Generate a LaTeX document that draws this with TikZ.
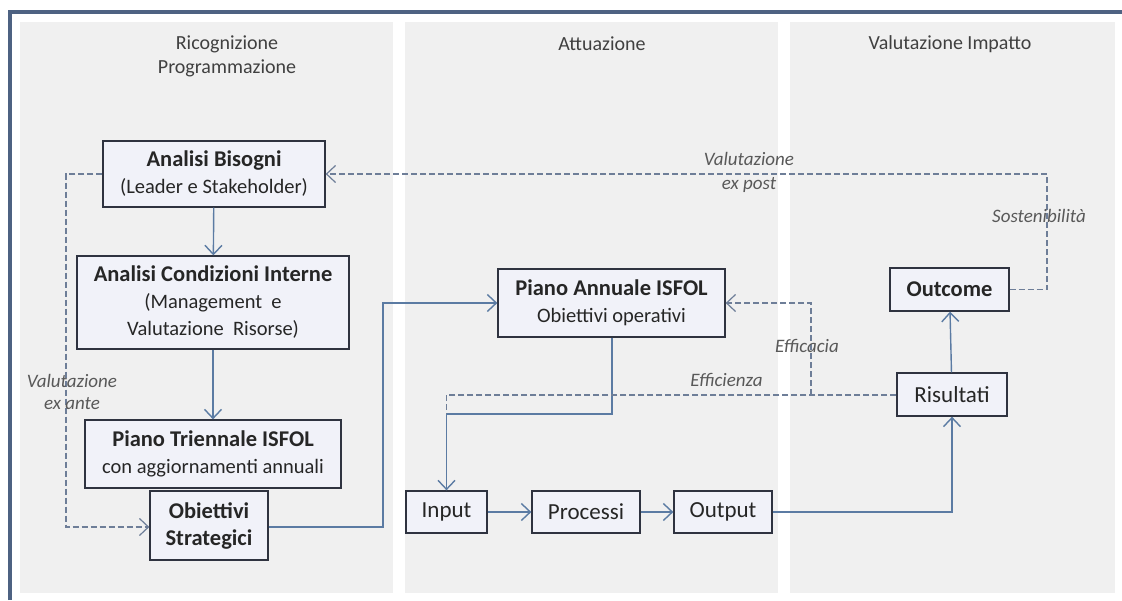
\documentclass[tikz,border=0pt]{standalone}
\usepackage{fontspec}
\setmainfont{Carlito}
\usetikzlibrary{arrows.meta}
\definecolor{frame}{HTML}{4E6282}
\definecolor{panel}{HTML}{F0F0F0}
\definecolor{boxfill}{HTML}{F1F2F9}
\definecolor{boxline}{HTML}{2F3340}
\definecolor{conn}{HTML}{5B7BA3}
\definecolor{dashc}{HTML}{6E7E98}
\newcommand\bt[1]{{\fontsize{22.5}{27}\selectfont\bfseries #1}}
\begin{document}
\begin{tikzpicture}[x=1pt,y=-1pt,
  box/.style={draw=boxline,line width=1.3pt,fill=boxfill,inner sep=0pt,align=center,text=black!85,font=\fontsize{20.5}{27}\selectfont},
  sbox/.style={box,font=\fontsize{23}{27}\selectfont},
  head/.style={font=\fontsize{20}{24}\selectfont,text=black!75,align=center},
  lab/.style={font=\itshape\fontsize{19}{23}\selectfont,text=black!65,align=center},
  arr/.style={draw=conn,line width=1.4pt,-{Straight Barb[length=9pt,width=17pt]}},
  ln/.style={draw=conn,line width=1.4pt},
  dsh/.style={draw=dashc,line width=1.2pt,dash pattern=on 6pt off 3pt},
  darr/.style={dsh,-{Straight Barb[length=9pt,width=17pt]}}]
\useasboundingbox (0,0) rectangle (1122,600);
\fill[white] (0,0) rectangle (1122,600);
% panels
\fill[panel] (20,22) rectangle (393,593);
\fill[panel] (405,22) rectangle (778,593);
\fill[panel] (790,22) rectangle (1115,593);
% frame
\draw[frame,line width=4pt] (10,600) -- (10,12) -- (1122,12);
% headers
\node[head] (h1) at (227,56) {Ricognizione\\Programmazione};
\node[head] (h2) at (602,44) {Attuazione};
\node[head] (h3) at (950,44) {Valutazione Impatto};
% boxes
\node[box,minimum width=222pt,minimum height=66pt] (ab) at (214,174) {\bt{Analisi Bisogni}\\(Leader e Stakeholder)};
\node[box,minimum width=272pt,minimum height=93pt] (aci) at (213,302.5) {\bt{Analisi Condizioni Interne}\\(Management \ e\\Valutazione \ Risorse)};
\node[box,minimum width=256pt,minimum height=68pt] (pt) at (213,454) {\bt{Piano Triennale ISFOL}\\con aggiornamenti annuali};
\node[box,minimum width=118pt,minimum height=69pt] (os) at (209,525.5) {\bt{Obiettivi}\\\bt{Strategici}};
\node[box,minimum width=227pt,minimum height=68pt] (pa) at (611.5,303) {\bt{Piano Annuale ISFOL}\\Obiettivi operativi};
\node[sbox,minimum width=81pt,minimum height=42pt] (in) at (446.5,512) {Input};
\node[sbox,minimum width=108pt,minimum height=42pt] (pr) at (586,512) {Processi};
\node[sbox,minimum width=98pt,minimum height=42pt] (out) at (723,512) {Output};
\node[box,minimum width=119pt,minimum height=43pt] (oc) at (949.5,289.5) {\bt{Outcome}};
\node[sbox,minimum width=110pt,minimum height=43pt] (ri) at (952,394.5) {Risultati};
% coordinates
\coordinate (c1) at (383,527);
\coordinate (c2) at (383,303);
\coordinate (c3) at (612,414);
\coordinate (c4) at (446.5,414);
\coordinate (c5) at (952,512);
\coordinate (d1) at (446.5,395);
\coordinate (d2) at (811,395);
\coordinate (d3) at (811,303);
\coordinate (s1) at (1047,289.5);
\coordinate (s2) at (1047,174);
\coordinate (e1) at (66,174);
\coordinate (e2) at (66,527);
% solid connectors
\draw[arr] (ab) -- (aci);
\draw[arr] (aci) -- (pt);
\draw[arr] (os.east |- c1) -- (c1) -- (c2) -- (pa.west);
\draw[ln] (pa.south -| c3) -- (c3) -- (c4);
\draw[arr] (c4) -- (in.north);
\draw[arr] (in) -- (pr);
\draw[arr] (pr) -- (out);
\draw[arr] (out.east) -- (c5) -- (ri.south);
\draw[arr] (ri) -- (oc);
% dashed
\draw[dsh] (ri.west |- d1) -- (d1) -- (c4);
\draw[darr] (d2) -- (d3) -- (pa.east);
\draw[darr] (oc.east) -- (s1) -- (s2) -- (ab.east);
\draw[darr] (ab.west) -- (e1) -- (e2) -- (os.west |- e2);
% labels
\node[lab] (lef) at (726.5,380) {Efficienza};
\node[lab] (lea) at (807,346) {Efficacia};
\node[lab] (lso) at (1039,216) {Sostenibilità};
\node[lab,font=\itshape\fontsize{19}{24}\selectfont] (lep) at (749,172) {Valutazione\\ex post};
\node[lab,font=\itshape\fontsize{19}{22}\selectfont] (lea2) at (72,392) {Valutazione\\ex ante};
\end{tikzpicture}
\end{document}
